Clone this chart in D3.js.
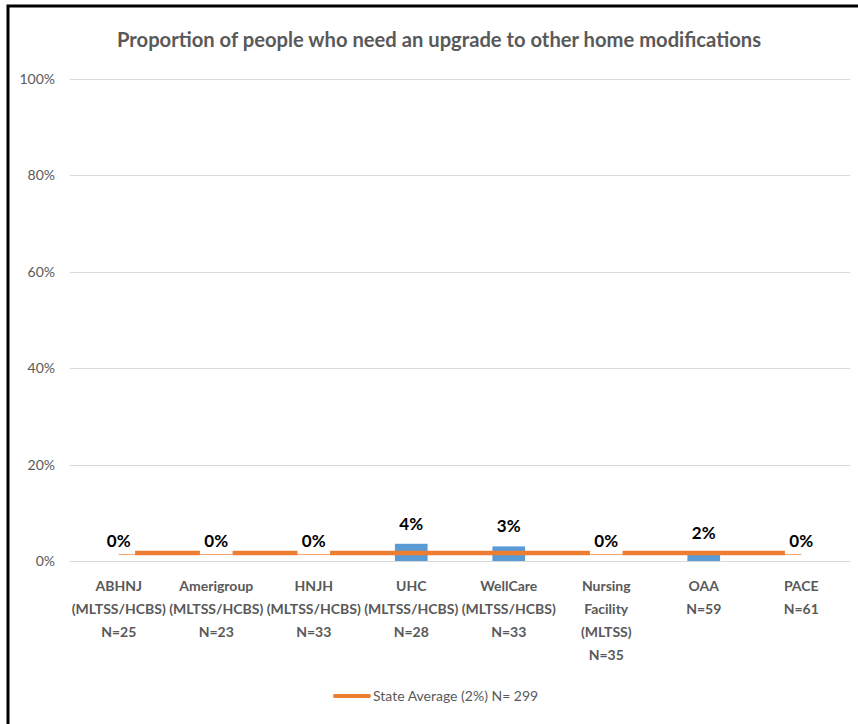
<!DOCTYPE html>
<html><head><meta charset="utf-8">
<script src="https://cdn.jsdelivr.net/npm/d3@7/dist/d3.min.js"></script>
<style>body{margin:0;background:#fff}svg{display:block}</style>
</head><body>
<svg id="chart" width="858" height="724"></svg>
<script>
const title = "Proportion of people who need an upgrade to other home modifications";
const categories = [
  ["ABHNJ","(MLTSS/HCBS)","N=25"],
  ["Amerigroup","(MLTSS/HCBS)","N=23"],
  ["HNJH","(MLTSS/HCBS)","N=33"],
  ["UHC","(MLTSS/HCBS)","N=28"],
  ["WellCare","(MLTSS/HCBS)","N=33"],
  ["Nursing","Facility","(MLTSS)","N=35"],
  ["OAA","N=59"],
  ["PACE","N=61"]
];
const values = [0, 0, 0, 0.0357, 0.0303, 0, 0.0169, 0];
const valueLabels = ["0%","0%","0%","4%","3%","0%","2%","0%"];
const stateAverage = 0.0167;
const legendLabel = "State Average (2%) N= 299";
const yTicks = [0, 0.2, 0.4, 0.6, 0.8, 1.0];

(function(){
const svg = d3.select("#chart");
const font = "Lato, 'Open Sans', sans-serif";
const grey = "#595959";
const blue = "#5B9BD5", orange = "#ED7D31";

const pl = 70, pr = 850, pt = 79, pb = 561;
const x = d3.scaleBand().domain(d3.range(categories.length)).range([pl, pr]).paddingInner(0.665).paddingOuter(0.3325);
const xc = d3.scaleBand().domain(d3.range(categories.length)).range([pl, pr]);
const y = d3.scaleLinear().domain([0, 1]).range([pb, pt]);

// border
svg.append("path").attr("d", `M8,724 L8,6 L858,6`).attr("fill","none").attr("stroke","#000").attr("stroke-width",3);

// title
svg.append("text").attr("x", 439).attr("y", 47).attr("text-anchor","middle")
  .attr("font-family", font).attr("font-size", 20.2).attr("font-weight", 700).attr("fill", grey)
  .text(title);

// gridlines
svg.append("g").selectAll("line").data(yTicks).join("line")
  .attr("x1", pl).attr("x2", pr).attr("y1", d => Math.round(y(d)) + 0.5).attr("y2", d => Math.round(y(d)) + 0.5)
  .attr("stroke", "#d9d9d9").attr("stroke-width", 1);

// y axis labels
const yAxis = d3.axisLeft(y).tickValues(yTicks).tickFormat(d3.format(".0%")).tickSize(0).tickPadding(0);
const ya = svg.append("g").attr("transform", `translate(55,0)`).call(yAxis);
ya.select(".domain").remove();
ya.selectAll("text").attr("font-family", font).attr("font-size", 14).attr("font-weight", 400).attr("fill", grey);

// bars
svg.append("g").selectAll("rect").data(values).join("rect")
  .attr("x", (d,i) => x(i)).attr("width", x.bandwidth())
  .attr("y", d => y(d)).attr("height", d => y(0) - y(d))
  .attr("fill", blue);

// state average line from first to last category center
const cx = i => xc(i) + xc.bandwidth()/2;
svg.append("line").attr("x1", cx(0)).attr("x2", cx(categories.length-1))
  .attr("y1", y(stateAverage)).attr("y2", y(stateAverage))
  .attr("stroke", orange).attr("stroke-width", 4.5);
// zero-valued bars mask the line
const zeros = values.map((v,i)=>({v,i})).filter(d => d.v === 0);
svg.append("g").selectAll("rect").data(zeros).join("rect")
  .attr("x", d => x(d.i)).attr("width", x.bandwidth())
  .attr("y", y(stateAverage) - 3).attr("height", 6).attr("fill", "#fff");
svg.append("g").selectAll("line").data(zeros).join("line")
  .attr("x1", d => Math.max(x(d.i), cx(0))).attr("x2", d => Math.min(x(d.i) + x.bandwidth(), cx(categories.length-1)))
  .attr("y1", y(stateAverage) + 1.5).attr("y2", y(stateAverage) + 1.5)
  .attr("stroke", orange).attr("stroke-width", 1).attr("opacity", 0.7);

// value labels
svg.append("g").selectAll("text").data(values).join("text")
  .attr("x", (d,i) => cx(i)).attr("y", d => y(d) - 14).attr("text-anchor","middle")
  .attr("font-family", font).attr("font-size", 17).attr("font-weight", 700).attr("fill", "#000")
  .text((d,i) => valueLabels[i]);

// category labels
const cg = svg.append("g").selectAll("text").data(categories).join("text")
  .attr("text-anchor","middle").attr("font-family", font).attr("font-size", 14).attr("font-weight", 700).attr("fill", grey);
cg.each(function(lines, i){
  d3.select(this).selectAll("tspan").data(lines).join("tspan")
    .attr("x", cx(i)).attr("y", (l,j) => 591 + j*23).text(l => l);
});

// legend
svg.append("line").attr("x1", 335).attr("x2", 369).attr("y1", 696).attr("y2", 696)
  .attr("stroke", orange).attr("stroke-width", 4).attr("stroke-linecap","round");
svg.append("text").attr("x", 373).attr("y", 701).attr("font-family", font).attr("font-size", 14).attr("fill", grey)
  .text(legendLabel);
})();
</script>
</body></html>
